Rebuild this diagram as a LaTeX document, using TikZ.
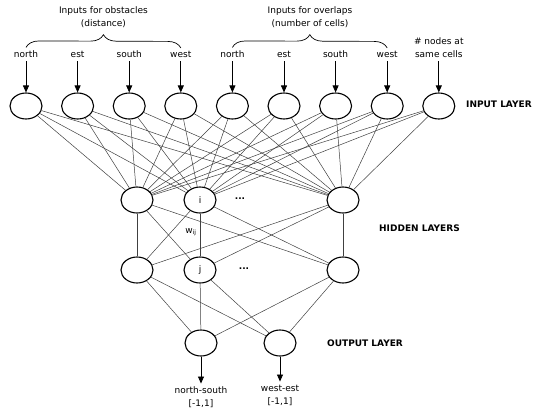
\documentclass[tikz,border=0pt]{standalone}
\usepackage{fontspec}
\setmainfont{DejaVu Sans}
\usetikzlibrary{positioning, arrows.meta, shapes.geometric, decorations.pathreplacing}

\tikzset{
  neuron/.style={draw=black, line width=1.1pt, ellipse, minimum width=32pt, minimum height=26pt, inner sep=0pt, font=\fontsize{9}{10}\selectfont},
  link/.style={draw=black!75, line width=0.5pt},
  feed/.style={-{Triangle[length=7pt,width=6pt]}, line width=0.8pt},
  lbl/.style={font=\fontsize{9}{13}\selectfont, align=center},
  layername/.style={font=\bfseries\fontsize{9}{10}\selectfont, anchor=west, inner sep=0pt}
}

\begin{document}
\begin{tikzpicture}[x=1pt, y=-1pt]
\useasboundingbox (0,0) rectangle (535,416);

\foreach \i/\x in {1/26, 2/77.6, 3/129.2, 4/180.8, 5/232.4, 6/284, 7/335.6, 8/387.2, 9/438.8}
  \node[neuron] (in\i) at (\x,106) {};

\foreach \i/\t in {1/north, 2/est, 3/south, 4/west, 5/north, 6/est, 7/south, 8/west, 9/{\# nodes at\\same cells}}
{
  \node[lbl, above=31pt of in\i] (t\i) {\t};
  \draw[feed] (t\i) -- (in\i);
}

\draw[decorate, decoration={brace, amplitude=13pt}, line width=0.7pt] (t1.north) -- (t4.north);
\draw[decorate, decoration={brace, amplitude=13pt}, line width=0.7pt] (t5.north) -- (t8.north);
\node[lbl] (obstacles) at (103.4,17) {Inputs for obstacles\\(distance)};
\node[lbl] (overlaps) at (310,17) {Inputs for overlaps\\(number of cells)};

\node[neuron] (h1) at (137,200) {};
\node[neuron] (h2) at (200,200) {i};
\node[neuron] (h3) at (343,200) {};
\node[lbl, font=\bfseries\fontsize{9}{13}\selectfont] (hdots) at (240,199) {...};

\node[neuron] (g1) at (137,270) {};
\node[neuron] (g2) at (200,270) {j};
\node[neuron] (g3) at (343,270) {};
\node[lbl, font=\bfseries\fontsize{9}{13}\selectfont] (gdots) at (244,269) {...};
\node[lbl] (wij) at (191,232) {w\textsubscript{ij}};

\node[neuron] (o1) at (201,343) {};
\node[neuron] (o2) at (280,343) {};

\foreach \i in {1,...,9}
  \foreach \h in {1,2,3}
    \draw[link] (in\i) -- (h\h);
\foreach \h in {1,2,3}
  \foreach \g in {1,2,3}
    \draw[link] (h\h) -- (g\g);
\foreach \g in {1,2,3}
  \foreach \o in {1,2}
    \draw[link] (g\g) -- (o\o);

\node[lbl, below=27pt of o1] (ns) {north-south\\{[-1,1]}};
\node[lbl, below=25pt of o2] (we) {west-est\\{[-1,1]}};
\draw[feed] (o1) -- (ns);
\draw[feed] (o2) -- (we);

\node[layername] (inlayer) at (466,104) {INPUT LAYER};
\node[layername] (hidlayer) at (379,228) {HIDDEN LAYERS};
\node[layername] (outlayer) at (327,343) {OUTPUT LAYER};
\end{tikzpicture}
\end{document}
